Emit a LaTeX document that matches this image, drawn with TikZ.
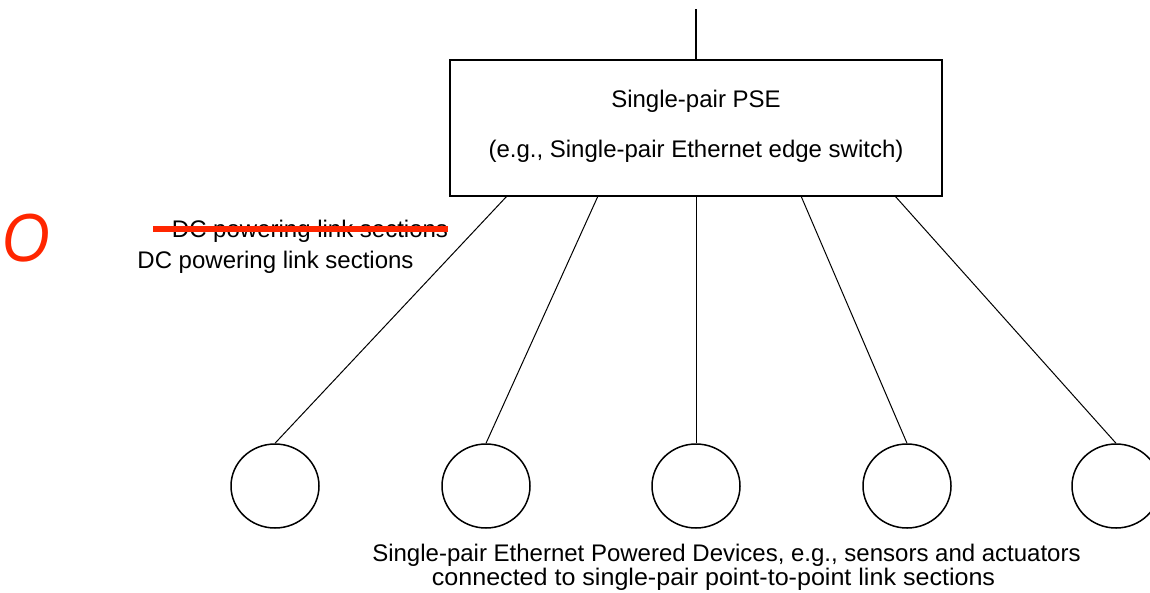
\documentclass[tikz,border=0pt]{standalone}
\usepackage{fontspec}
\setmainfont{Liberation Sans}
\usetikzlibrary{shapes.geometric}
\definecolor{markred}{RGB}{255,38,0}
\begin{document}
\begin{tikzpicture}[x=1pt,y=-1pt,
  lbl/.style={inner sep=0pt,anchor=base,font=\fontsize{24}{28}\selectfont},
  dev/.style={draw,line width=1.5pt,ellipse,minimum width=88pt,minimum height=84pt,inner sep=0pt},
  link/.style={line width=1pt},
  heavy/.style={line width=2pt}]
\useasboundingbox (0,0) rectangle (1150,592);
\node[draw,heavy,minimum width=492pt,minimum height=136pt,inner sep=0pt] (pse) at (696,128) {};
\node[lbl] (t1) at (696,107) {Single-pair PSE};
\node[lbl] (t2) at (696,157) {(e.g., Single-pair Ethernet edge switch)};
\coordinate (up) at (696,9);
\draw[heavy] (up) -- (pse.north);
\foreach \i/\cx/\bx in {1/275/507,2/486/598,3/696/696,4/907/801,5/1116/895}{
  \node[dev] (d\i) at (\cx,486) {};
  \coordinate (b\i) at (\bx,196);
  \draw[link] (b\i) -- (d\i.north);
}
\node[lbl] (old) at (310,237) {DC powering link sections};
\coordinate (s1) at (153,229);
\coordinate (s2) at (448,229);
\draw[markred,line width=6pt] (s1) -- (s2);
\node[lbl] (new) at (275.5,268) {DC powering link sections};
\node[inner sep=0pt,anchor=base,text=markred,xscale=0.9,font=\fontsize{68}{68}\selectfont\itshape] (mark) at (26,261) {O};
\node[lbl] (bot1) at (726.5,561) {Single-pair Ethernet Powered Devices, e.g., sensors and actuators};
\node[lbl,xscale=1.045] (bot2) at (713.5,585) {connected to single-pair point-to-point link sections};
\end{tikzpicture}
\end{document}
